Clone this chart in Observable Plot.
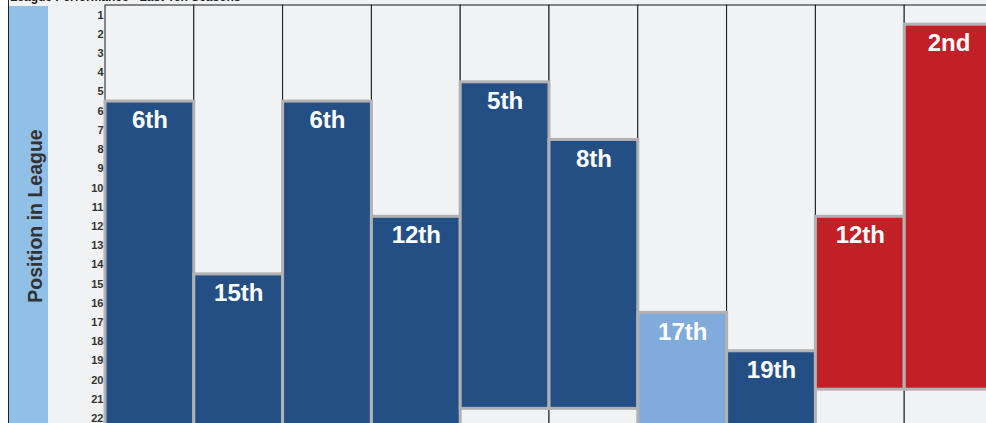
<!DOCTYPE html>
<html><head><meta charset="utf-8">
<script src="https://cdn.jsdelivr.net/npm/d3@7"></script>
<script src="https://cdn.jsdelivr.net/npm/@observablehq/plot@0.6"></script>
<style>
html,body{margin:0;padding:0;overflow:hidden;background:#fff;width:986px;height:423px;}
#wrap{position:relative;width:986px;height:423px;overflow:hidden;font-family:"Liberation Sans",Arial,sans-serif;}
#bg{position:absolute;left:9px;top:0;width:980px;height:423px;background:#f1f2f4;}
#title{position:absolute;left:10px;top:-10px;font-size:12px;font-weight:bold;color:#222;white-space:nowrap;}
#edge{position:absolute;left:8px;top:0;width:1px;height:423px;background:#222;}
#side{position:absolute;left:9px;top:6px;width:39px;height:417px;background:#90bfe8;}
#ylabel{position:absolute;left:35px;top:216px;transform:translate(-50%,-50%) rotate(-90deg);font-size:19.5px;font-weight:bold;color:#333;white-space:nowrap;}
#chart{position:absolute;left:0;top:0;width:1000px;}
#chart svg{max-width:none !important;}
</style>
</head><body>
<div id="wrap">
  <div id="bg"></div>
  <div id="edge"></div>
  <div id="side"></div>
  <div id="title">League Performance - Last Ten Seasons</div>
  <div id="chart"></div>
  <div id="ylabel">Position in League</div>
</div>
<script>
const seasons = ["2006-07","2007-08","2008-09","2009-10","2010-11","2011-12","2012-13","2013-14","2014-15","2015-16"];
const positions = [6, 15, 6, 12, 5, 8, 17, 19, 12, 2];
const leagueSizes = [24, 24, 24, 24, 21, 21, 24, 24, 20, 20];
const divisions = ["Tier 2","Tier 2","Tier 2","Tier 2","Tier 2","Tier 2","Tier 3","Tier 2","Tier 1","Tier 1"];
const positionLabels = ["6th","15th","6th","12th","5th","8th","17th","19th","12th","2nd"];
const yTicks = [1,2,3,4,5,6,7,8,9,10,11,12,13,14,15,16,17,18,19,20,21,22];
const divisionNames = ["Tier 2","Tier 3","Tier 1"];
const divisionColors = ["#244f85","#80abdb","#c02026"];

const data = seasons.map((s, i) => ({
  season: s, pos: positions[i], size: leagueSizes[i], division: divisions[i], label: positionLabels[i]
}));

const chart = Plot.plot({
  width: 993, height: 466,
  marginLeft: 105, marginRight: 0, marginTop: 5, marginBottom: 0,
  style: {background: "transparent", fontFamily: "Liberation Sans, Arial, sans-serif", maxWidth: "none"},
  x: {type: "band", domain: seasons, padding: 0, round: false, axis: null},
  y: {domain: [0.5, 24.5], reverse: true, axis: null},
  color: {domain: divisionNames, range: divisionColors},
  marks: [
    Plot.barY(seasons, {x: d => d, y1: () => 0.5, y2: () => 24.5, fill: "#f1f2f4", stroke: "#1a1a1a", strokeWidth: 1, inset: 0}),
    Plot.barY(data, {x: "season", y1: d => d.pos - 0.5, y2: d => d.size + 0.5, fill: "division", stroke: "#b2b2b2", strokeWidth: 3, inset: 0}),
    Plot.text(data, {x: "season", y: d => d.pos - 0.5, text: "label", fill: "white", fontSize: 24, fontWeight: "bold", dy: 19}),
    Plot.axisY({ticks: yTicks, tickSize: 0, tickPadding: 2, fontSize: 11, fontWeight: "bold", fill: "#333", label: null, tickFormat: d => String(d)})
  ]
});
document.getElementById("chart").appendChild(chart);
</script>
</body></html>
